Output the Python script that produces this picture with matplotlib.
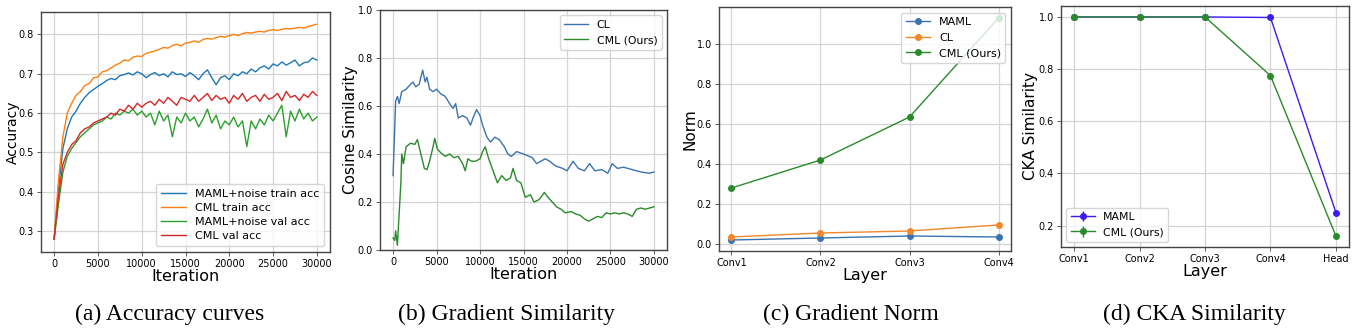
import numpy as np
import matplotlib
matplotlib.use('Agg')
import matplotlib.pyplot as plt

plt.rcParams['font.family'] = ['DejaVu Sans']

# ---- (a) accuracy curves ----
iters_a = np.arange(0, 30001, 500)
maml_train = [0.28, 0.41, 0.51, 0.56, 0.59, 0.605, 0.625, 0.64, 0.652, 0.66, 0.668,
              0.675, 0.683, 0.688, 0.685, 0.695, 0.698, 0.702, 0.697, 0.705, 0.70,
              0.69, 0.698, 0.703, 0.695, 0.70, 0.692, 0.705, 0.698, 0.70, 0.693,
              0.703, 0.695, 0.685, 0.70, 0.71, 0.69, 0.672, 0.69, 0.695, 0.685,
              0.70, 0.695, 0.705, 0.70, 0.712, 0.705, 0.715, 0.72, 0.712, 0.725,
              0.72, 0.73, 0.722, 0.728, 0.735, 0.72, 0.728, 0.73, 0.74, 0.735]
cml_train = [0.28, 0.43, 0.54, 0.60, 0.625, 0.645, 0.655, 0.67, 0.675, 0.69, 0.692,
             0.705, 0.708, 0.715, 0.722, 0.727, 0.735, 0.733, 0.742, 0.745, 0.744,
             0.752, 0.755, 0.758, 0.762, 0.767, 0.765, 0.772, 0.775, 0.771, 0.778,
             0.78, 0.783, 0.78, 0.787, 0.79, 0.788, 0.792, 0.795, 0.793, 0.797,
             0.80, 0.797, 0.802, 0.805, 0.803, 0.806, 0.808, 0.806, 0.81, 0.812,
             0.81, 0.813, 0.815, 0.814, 0.816, 0.818, 0.816, 0.82, 0.823, 0.826]
maml_val = [0.28, 0.37, 0.45, 0.49, 0.51, 0.525, 0.54, 0.55, 0.56, 0.57, 0.575,
            0.58, 0.59, 0.585, 0.60, 0.595, 0.605, 0.60, 0.61, 0.595, 0.605,
            0.59, 0.60, 0.57, 0.605, 0.58, 0.595, 0.54, 0.59, 0.575, 0.60,
            0.58, 0.59, 0.565, 0.585, 0.61, 0.575, 0.595, 0.56, 0.58, 0.57,
            0.59, 0.565, 0.58, 0.515, 0.58, 0.56, 0.585, 0.57, 0.595, 0.58,
            0.60, 0.62, 0.54, 0.605, 0.58, 0.61, 0.585, 0.60, 0.58, 0.59]
cml_val = [0.28, 0.39, 0.47, 0.50, 0.52, 0.53, 0.55, 0.56, 0.565, 0.575, 0.58,
           0.585, 0.59, 0.60, 0.595, 0.61, 0.605, 0.62, 0.61, 0.625, 0.615,
           0.625, 0.63, 0.62, 0.635, 0.625, 0.64, 0.63, 0.62, 0.64, 0.635,
           0.63, 0.645, 0.63, 0.64, 0.65, 0.632, 0.645, 0.635, 0.64, 0.625,
           0.645, 0.635, 0.65, 0.63, 0.64, 0.645, 0.63, 0.648, 0.635, 0.64,
           0.65, 0.632, 0.655, 0.64, 0.645, 0.632, 0.648, 0.64, 0.655, 0.645]

# ---- (b) gradient similarity ----
iters_cl = [0, 300, 500, 700, 1000, 1500, 2000, 2300, 2600, 3000, 3400, 3700, 3900,
            4200, 4600, 5000, 5500, 6000, 6500, 6900, 7200, 7500, 8000, 8500, 8900,
            9200, 9600, 10000, 10300, 10800, 11200, 11700, 12200, 12800, 13200,
            13600, 14200, 15000, 16000, 16500, 17000, 17500, 18000, 18700, 19500,
            20000, 20700, 21300, 22000, 22600, 23200, 24000, 24700, 25200, 25800,
            26500, 27500, 28500, 29500, 30000]
cos_cl = [0.31, 0.62, 0.64, 0.61, 0.66, 0.67, 0.69, 0.70, 0.68, 0.69, 0.75, 0.70, 0.72,
          0.67, 0.66, 0.67, 0.65, 0.64, 0.61, 0.59, 0.61, 0.55, 0.56, 0.55, 0.52,
          0.55, 0.585, 0.56, 0.52, 0.47, 0.45, 0.47, 0.46, 0.43, 0.40,
          0.39, 0.41, 0.40, 0.385, 0.36, 0.37, 0.38, 0.37, 0.35, 0.34,
          0.33, 0.37, 0.34, 0.33, 0.36, 0.33, 0.335, 0.32, 0.36, 0.34,
          0.345, 0.335, 0.325, 0.32, 0.325]
iters_cml = [0, 200, 300, 500, 700, 900, 1000, 1200, 1500, 2000, 2500, 2800, 3200,
             3600, 3900, 4200, 4600, 4800, 5100, 5500, 6000, 6500, 7000, 7500, 8000,
             8300, 8600, 9000, 9500, 10000, 10300, 10600, 11000, 11500, 12000, 12500,
             13000, 13500, 13800, 14200, 14700, 15200, 15800, 16200, 16800, 17400,
             17800, 18300, 18800, 19300, 19800, 20500, 21000, 21500, 22000, 22500,
             23000, 23500, 24000, 24500, 25000, 25500, 26000, 26500, 27000, 27500,
             28000, 28500, 29000, 29500, 30000]
cos_cml = [0.05, 0.04, 0.08, 0.02, 0.15, 0.28, 0.40, 0.36, 0.43, 0.445, 0.44, 0.46, 0.40,
           0.34, 0.335, 0.37, 0.43, 0.465, 0.42, 0.405, 0.39, 0.40, 0.385, 0.39, 0.36,
           0.33, 0.38, 0.37, 0.37, 0.38, 0.41, 0.43, 0.38, 0.33, 0.28, 0.31,
           0.29, 0.30, 0.34, 0.29, 0.28, 0.22, 0.23, 0.20, 0.21, 0.24,
           0.22, 0.20, 0.18, 0.17, 0.155, 0.16, 0.15, 0.145, 0.13, 0.12,
           0.13, 0.14, 0.135, 0.155, 0.15, 0.155, 0.15, 0.155, 0.15, 0.14,
           0.17, 0.175, 0.17, 0.175, 0.18]

# ---- (c) gradient norm ----
layers_c = ['Conv1', 'Conv2', 'Conv3', 'Conv4']
norm_maml = [0.02, 0.03, 0.04, 0.035]
norm_cl = [0.035, 0.055, 0.065, 0.095]
norm_cml = [0.28, 0.42, 0.635, 1.13]

# ---- (d) CKA similarity ----
layers_d = ['Conv1', 'Conv2', 'Conv3', 'Conv4', 'Head']
cka_maml = [1.0, 1.0, 1.0, 0.998, 0.25]
cka_cml = [1.0, 1.0, 1.0, 0.775, 0.16]
cka_err = [0, 0, 0, 0, 0]

W, H = 1355, 328
fig = plt.figure(figsize=(W / 100, H / 100), dpi=100)


def make_ax(l, r, t, b):
    ax = fig.add_axes([l / W, 1 - b / H, (r - l) / W, (b - t) / H])
    ax.grid(True, color='#d4d4d4', linewidth=0.9)
    ax.set_axisbelow(True)
    for s in ax.spines.values():
        s.set_color('#444444')
        s.set_linewidth(1.0)
    ax.tick_params(labelsize=7, length=3, width=0.6, color='#444444', pad=2)
    return ax


blue = '#3a73b0'
green_dk = '#2a8a2a'

# (a)
ax1 = make_ax(41, 330, 12, 252)
ax1.plot(iters_a, maml_train, color='#1f77b4', lw=1.0, label='MAML+noise train acc')
ax1.plot(iters_a, cml_train, color='#ff7f0e', lw=1.0, label='CML train acc')
ax1.plot(iters_a, maml_val, color='#2ca02c', lw=1.0, label='MAML+noise val acc')
ax1.plot(iters_a, cml_val, color='#d62728', lw=1.0, label='CML val acc')
ax1.set_xlim(-1500, 31500)
ax1.set_ylim(0.247, 0.857)
ax1.set_xticks([0, 5000, 10000, 15000, 20000, 25000, 30000])
ax1.set_yticks([0.3, 0.4, 0.5, 0.6, 0.7, 0.8])
ax1.set_xlabel('Iteration', fontsize=11.5, labelpad=0)
ax1.set_ylabel('Accuracy', fontsize=10)
ax1.yaxis.set_label_coords(-0.074, 0.5)
ax1.legend(loc='lower right', fontsize=8, handlelength=2.2, borderpad=0.5, labelspacing=0.35)

# (b)
ax2 = make_ax(380, 667, 10, 250)
ax2.plot(iters_cl, cos_cl, color=blue, lw=1.0, label='CL')
ax2.plot(iters_cml, cos_cml, color=green_dk, lw=1.0, label='CML (Ours)')
ax2.set_xlim(-1500, 31500)
ax2.set_ylim(0, 1.0)
ax2.set_xticks([0, 5000, 10000, 15000, 20000, 25000, 30000])
ax2.set_yticks([0.0, 0.2, 0.4, 0.6, 0.8, 1.0])
ax2.set_xlabel('Iteration', fontsize=11.5, labelpad=0)
ax2.set_ylabel('Cosine Similarity', fontsize=11)
ax2.yaxis.set_label_coords(-0.077, 0.5)
ax2.legend(loc='upper right', fontsize=7.8, handlelength=2.2)

# (c)
ax3 = make_ax(719, 1011, 7, 251)
xc = np.arange(len(layers_c))
ax3.plot(xc, norm_maml, color=blue, lw=1.0, marker='o', ms=4, label='MAML')
ax3.plot(xc, norm_cl, color='#f0872a', lw=1.0, marker='o', ms=4, label='CL')
ax3.plot(xc, norm_cml, color=green_dk, lw=1.0, marker='o', ms=4, label='CML (Ours)')
ax3.set_xticks(xc)
ax3.set_xticklabels(layers_c)
ax3.set_xlim(-0.14, 3.14)
ax3.set_ylim(-0.035, 1.185)
ax3.set_yticks([0.0, 0.2, 0.4, 0.6, 0.8, 1.0])
ax3.set_xlabel('Layer', fontsize=11.5, labelpad=0)
ax3.set_ylabel('Norm', fontsize=11)
ax3.yaxis.set_label_coords(-0.072, 0.5)
ax3.legend(loc='upper right', fontsize=8, handlelength=2.2, framealpha=0.8)

# (d)
ax4 = make_ax(1061, 1349, 6, 247)
xd = np.arange(len(layers_d))
ax4.errorbar(xd, cka_maml, yerr=cka_err, color='#3a1df0', lw=1.0, marker='o', ms=4, label='MAML')
ax4.errorbar(xd, cka_cml, yerr=cka_err, color=green_dk, lw=1.0, marker='o', ms=4, label='CML (Ours)')
ax4.set_xticks(xd)
ax4.set_xticklabels(layers_d)
ax4.set_xlim(-0.2, 4.2)
ax4.set_ylim(0.118, 1.042)
ax4.set_yticks([0.2, 0.4, 0.6, 0.8, 1.0])
ax4.set_xlabel('Layer', fontsize=11.5, labelpad=0)
ax4.set_ylabel('CKA Similarity', fontsize=11)
ax4.yaxis.set_label_coords(-0.08, 0.5)
ax4.legend(loc='lower left', fontsize=7.8, handlelength=2.2)

# captions
captions = ['(a) Accuracy curves', '(b) Gradient Similarity', '(c) Gradient Norm', '(d) CKA Similarity']
cap_x = [170, 506, 851, 1194]
for cx, txt in zip(cap_x, captions):
    fig.text(cx / W, 1 - 314 / H, txt, ha='center', va='center',
             fontsize=17, family='Liberation Serif')

fig.savefig('out.png', dpi=100)
